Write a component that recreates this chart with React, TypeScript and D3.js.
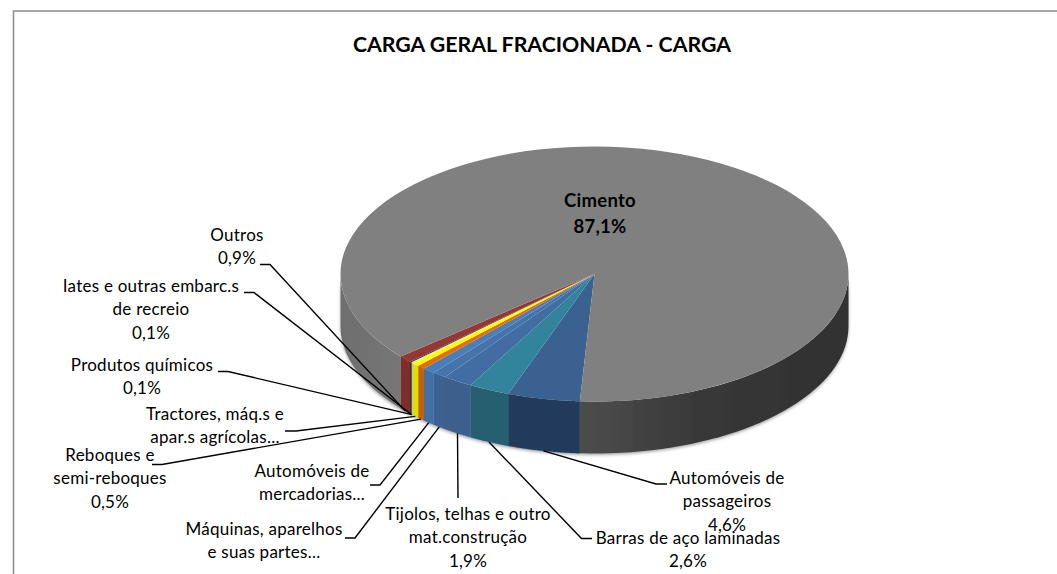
import React, { useRef, useEffect } from 'react';
import * as d3 from 'd3';

const categories = [
  'Automóveis de passageiros',
  'Barras de aço laminadas',
  'Tijolos, telhas e outro mat.construção',
  'Máquinas, aparelhos e suas partes',
  'Automóveis de mercadorias',
  'Reboques e semi-reboques',
  'Tractores, máq.s e apar.s agrícolas',
  'Produtos químicos',
  'Iates e outras embarc.s de recreio',
  'Outros',
  'Cimento',
];

// percentagens; as truncadas no rótulo (...) são estimadas pelo ângulo da fatia
const values = [4.6, 2.6, 1.9, 0.9, 0.8, 0.5, 0.5, 0.1, 0.1, 0.9, 87.1];

const labelLines = [
  ['Automóveis de', 'passageiros', '4,6%'],
  ['Barras de aço laminadas', '2,6%'],
  ['Tijolos, telhas e outro', 'mat.construção', '1,9%'],
  ['Máquinas, aparelhos', 'e suas partes...'],
  ['Automóveis de', 'mercadorias...'],
  ['Reboques e', 'semi-reboques', '0,5%'],
  ['Tractores, máq.s e', 'apar.s agrícolas...'],
  ['Produtos químicos', '0,1%'],
  ['Iates e outras embarc.s', 'de recreio', '0,1%'],
  ['Outros', '0,9%'],
  ['Cimento', '87,1%'],
];

const topColors = ['#3a618f', '#31849b', '#426da2', '#4573aa', '#4a7ebb', '#e46c0a', '#ffff00', '#d9dde3', '#1f1f1f', '#953735', '#808080'];
const wallColors = ['#243b5c', '#256070', '#3d5e8b', '#3c6292', '#3f6fa6', '#c55f0c', '#e0e000', '#b5b9bf', '#111111', '#7d2e2c', '#6f6f6f'];

// posição dos rótulos: centro x e primeira linha de base
const labelX = [727, 688, 468, 264, 312, 110, 215, 142, 151, 237, 600];
const labelY = [484, 544, 520, 535, 477, 461, 420, 371, 292, 241, 207];

// linhas de chamada: início e cotovelo (null = sem linha)
const leaderStart: ([number, number] | null)[] = [[667, 484], [592, 538.5], [458, 498], [345, 538], [370, 485], [152, 464.5], [285, 431], [218, 371.5], [244, 292.5], [260, 264.5], null];
const leaderElbow: ([number, number] | null)[] = [[656, 484], [581.5, 538.5], [458, 498], [355, 538], [380, 485], [162, 464.5], [296, 431], [228, 371.5], [254, 292.5], [270, 264.5], null];

const width = 1057;
const height = 574;
const cx = 594.5;
const cy = 274;
const rx = 254;
const ry = 127.5;
const depth = 52;
const lineGap = 23.3;
const toRad = Math.PI / 180;
const firstAngle = 183.3 * toRad;

const project = (a: number, drop = 0): [number, number] => [
  cx + rx * Math.sin(a),
  cy - ry * Math.cos(a) + drop,
];

function App() {
  const svgRef = useRef<SVGSVGElement>(null);

  useEffect(() => {
    const svg = d3.select(svgRef.current);
    svg.selectAll('*').remove();

    svg.append('rect').attr('width', width).attr('height', height).attr('fill', '#fff');

    // moldura: só topo e esquerda aparecem no recorte
    svg
      .append('path')
      .attr('d', d3.line()([[13.5, height], [13.5, 11], [width, 11]]))
      .attr('fill', 'none')
      .attr('stroke', '#8c8c8c')
      .attr('stroke-width', 1.5);

    const defs = svg.append('defs');

    const rightGrad = defs
      .append('linearGradient')
      .attr('id', 'wallRight')
      .attr('gradientUnits', 'userSpaceOnUse')
      .attr('x1', cx - 15)
      .attr('x2', cx + rx)
      .attr('y1', 0)
      .attr('y2', 0);
    rightGrad.append('stop').attr('offset', 0).attr('stop-color', '#4d4d4d');
    rightGrad.append('stop').attr('offset', 0.45).attr('stop-color', '#383838');
    rightGrad.append('stop').attr('offset', 1).attr('stop-color', '#303030');

    const leftGrad = defs
      .append('linearGradient')
      .attr('id', 'wallLeft')
      .attr('gradientUnits', 'userSpaceOnUse')
      .attr('x1', cx - rx)
      .attr('x2', cx - 195)
      .attr('y1', 0)
      .attr('y2', 0);
    leftGrad.append('stop').attr('offset', 0).attr('stop-color', '#6e6e6e');
    leftGrad.append('stop').attr('offset', 1).attr('stop-color', '#767676');

    const shadow = defs.append('filter').attr('id', 'wallShadow').attr('x', '-5%').attr('y', '-5%').attr('width', '110%').attr('height', '120%');
    shadow
      .append('feDropShadow')
      .attr('dx', 0)
      .attr('dy', 1.5)
      .attr('stdDeviation', 1.5)
      .attr('flood-opacity', 0.35);

    const pie = d3
      .pie<number>()
      .sort(null)
      .startAngle(firstAngle)
      .endAngle(firstAngle + 2 * Math.PI);
    const slices = pie(values);

    const wallPath = (a0: number, a1: number) => {
      const steps = d3.range(0, 41).map((i) => a0 + ((a1 - a0) * i) / 40);
      const edge = steps.map((a) => project(a));
      const lower = steps.map((a) => project(a, depth)).reverse();
      return d3.line()([...edge, ...lower]) + 'Z';
    };

    const walls = svg.append('g').attr('filter', 'url(#wallShadow)');
    slices.forEach((s, i) => {
      if (i === slices.length - 1) {
        // Cimento dá a volta por trás: só as duas pontas da frente se veem
        walls.append('path').attr('d', wallPath(s.startAngle, 270 * toRad)).attr('fill', 'url(#wallLeft)');
        walls.append('path').attr('d', wallPath(90 * toRad + 2 * Math.PI, s.endAngle)).attr('fill', 'url(#wallRight)');
      } else {
        walls
          .append('path')
          .attr('d', wallPath(s.startAngle, s.endAngle))
          .attr('fill', wallColors[i])
          .attr('stroke', wallColors[i])
          .attr('stroke-width', 0.3);
      }
    });

    const arc = d3
      .arc<d3.PieArcDatum<number>>()
      .innerRadius(0)
      .outerRadius(rx);

    svg
      .append('g')
      .attr('transform', `translate(${cx},${cy}) scale(1,${ry / rx})`)
      .selectAll('path')
      .data(slices)
      .join('path')
      .attr('d', (d) => arc(d))
      .attr('fill', (_, i) => topColors[i]);

    // linhas de chamada até a base da parede, no ângulo médio da fatia
    slices.forEach((s, i) => {
      const start = leaderStart[i];
      const elbow = leaderElbow[i];
      if (!start || !elbow) return;
      const target = project((s.startAngle + s.endAngle) / 2, depth);
      svg
        .append('path')
        .attr('d', d3.line()([start, elbow, target]))
        .attr('fill', 'none')
        .attr('stroke', '#000')
        .attr('stroke-width', 1.4);
    });

    labelLines.forEach((lines, i) => {
      const isMain = categories[i] === 'Cimento';
      const text = svg
        .append('text')
        .attr('text-anchor', 'middle')
        .attr('font-family', 'Lato, sans-serif')
        .attr('font-size', isMain ? 18.5 : 17)
        .attr('letter-spacing', 0.25)
        .attr('font-weight', isMain ? 700 : 400)
        .attr('fill', '#000');
      lines.forEach((line, j) => {
        text
          .append('tspan')
          .attr('x', labelX[i])
          .attr('y', labelY[i] + j * (isMain ? 26 : lineGap))
          .text(line);
      });
    });

    svg
      .append('text')
      .attr('x', 542)
      .attr('y', 52)
      .attr('text-anchor', 'middle')
      .attr('font-family', 'Lato, sans-serif')
      .attr('font-size', 21.3)
      .attr('font-weight', 700)
      .attr('fill', '#000')
      .text('CARGA GERAL FRACIONADA - CARGA');
  }, []);

  return (
    <svg
      ref={svgRef}
      width={width}
      height={height}
      xmlns="http://www.w3.org/2000/svg"
      style={{ position: 'absolute', left: 0, top: 0, display: 'block' }}
    />
  );
}

export default App;
